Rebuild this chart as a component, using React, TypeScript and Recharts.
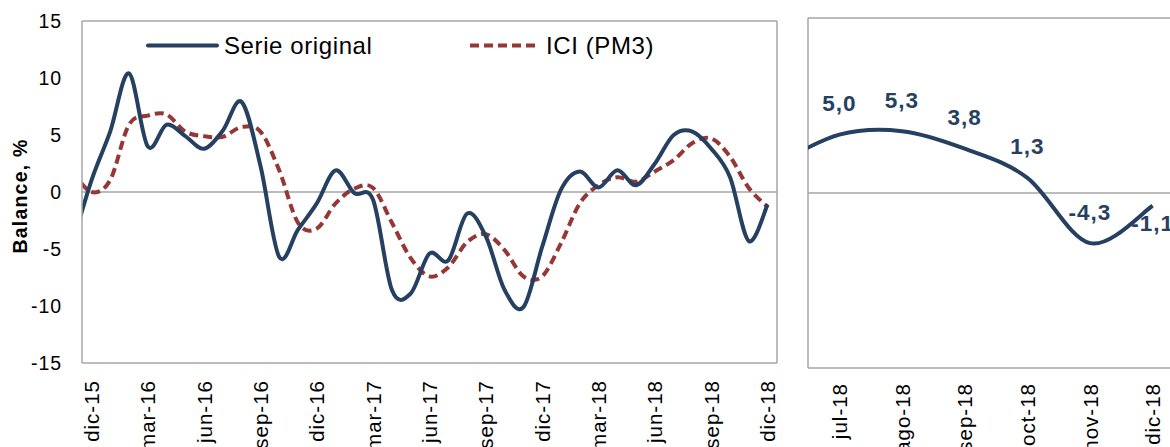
import React from 'react';
import { LineChart, Line, XAxis, YAxis, ReferenceLine, LabelList } from 'recharts';

// ---------- data ----------
const months = [
  'nov-15', 'dic-15', 'ene-16', 'feb-16', 'mar-16', 'abr-16', 'may-16', 'jun-16', 'jul-16', 'ago-16',
  'sep-16', 'oct-16', 'nov-16', 'dic-16', 'ene-17', 'feb-17', 'mar-17', 'abr-17', 'may-17', 'jun-17',
  'jul-17', 'ago-17', 'sep-17', 'oct-17', 'nov-17', 'dic-17', 'ene-18', 'feb-18', 'mar-18', 'abr-18',
  'may-18', 'jun-18', 'jul-18', 'ago-18', 'sep-18', 'oct-18', 'nov-18', 'dic-18',
];
const serieOriginal = [
  -4.5, 1.0, 5.3, 10.4, 4.0, 5.9, 4.9, 3.8, 5.4, 7.9,
  2.3, -5.7, -3.3, -1.0, 1.9, -0.1, -0.7, -8.6, -8.9, -5.4,
  -6.0, -1.9, -3.9, -8.6, -10.1, -4.8, 0.2, 1.8, 0.4, 1.9,
  0.6, 2.5, 5.0, 5.3, 3.8, 1.3, -4.3, -1.1,
];
const iciPM3 = [
  1.8, 0.0, 1.05, 5.9, 6.7, 6.8, 5.3, 4.9, 4.85, 5.7,
  5.3, 1.9, -2.7, -3.2, -1.0, 0.3, 0.35, -2.7, -5.8, -7.4,
  -6.6, -4.4, -3.7, -5.1, -7.4, -7.4, -4.5, -1.0, 0.6, 1.3,
  0.9, 1.8, 2.8, 4.3, 4.7, 3.1, 0.35, -1.3,
];
const leftTickIdx = [0, 3, 6, 9, 12, 15, 18, 21, 24, 27, 30, 33, 36];
const yTicks = [-15, -10, -5, 0, 5, 10, 15];

const rightMonths = ['jun-18', 'jul-18', 'ago-18', 'sep-18', 'oct-18', 'nov-18', 'dic-18'];
const rightValues = [2.5, 5.0, 5.3, 3.8, 1.3, -4.3, -1.1];
const rightTickIdx = [0, 1, 2, 3, 4, 5];

// idx: -1 = first month (clipped), 0 = dic-15 ...
const leftData = months.map((m, i) => ({ idx: i - 1, month: m, orig: serieOriginal[i], ici: iciPM3[i] }));
const rightData = rightMonths.map((m, i) => ({ idx: i - 1, month: m, v: rightValues[i] }));

// ---------- style ----------
const FONT = '"Liberation Sans", Arial, Helvetica, sans-serif';
const BLUE = '#254061';
const RED = '#953735';
const GRAY = '#A6A6A6';

// Excel-like smoothing (Catmull-Rom)
const catmullRom = (context: any) => {
  let pts: number[][] = [];
  return {
    areaStart() {},
    areaEnd() {},
    lineStart() { pts = []; },
    point(x: number, y: number) { pts.push([+x, +y]); },
    lineEnd() {
      const n = pts.length;
      if (!n) return;
      context.moveTo(pts[0][0], pts[0][1]);
      if (n === 1) return;
      for (let i = 0; i < n - 1; i++) {
        const p0 = pts[i - 1] || pts[i];
        const p1 = pts[i];
        const p2 = pts[i + 1];
        const p3 = pts[i + 2] || pts[i + 1];
        const c1x = p1[0] + (p2[0] - p0[0]) / 6;
        const c1y = p1[1] + (p2[1] - p0[1]) / 6;
        const c2x = p2[0] - (p3[0] - p1[0]) / 6;
        const c2y = p2[1] - (p3[1] - p1[1]) / 6;
        context.bezierCurveTo(c1x, c1y, c2x, c2y, p2[0], p2[1]);
      }
    },
  };
};

const makeRotTick = (labels: string[], offsetIdx: number, gap: number) => (props: any) => {
  const { x, y, payload } = props;
  const label = labels[payload.value + offsetIdx];
  const ty = y + gap;
  return (
    <text
      x={x}
      y={ty}
      transform={`rotate(-90 ${x} ${ty})`}
      textAnchor="end"
      dominantBaseline="central"
      fontFamily={FONT}
      fontSize={20.5}
      letterSpacing={1}
      fill="#000"
    >
      {label}
    </text>
  );
};

const fmt = (v: number) => v.toFixed(1).replace('.', ',');

const RightLabel = (props: any) => {
  const { x, y, value, index } = props;
  if (index === 0) return null;
  const last = index === rightValues.length - 1;
  return (
    <text
      x={x}
      y={last ? y + 18 : y - 31}
      textAnchor="middle"
      dominantBaseline="central"
      fontFamily={FONT}
      fontSize={22.5}
      fontWeight="bold"
      letterSpacing={1}
      fill={BLUE}
    >
      {fmt(value)}
    </text>
  );
};

const YLabel = () => (
  <text
    x={20}
    y={196}
    transform="rotate(-90 20 196)"
    textAnchor="middle"
    dominantBaseline="central"
    fontFamily={FONT}
    fontSize={19.5}
    fontWeight="bold"
    letterSpacing={1.2}
    fill="#000"
  >
    Balance, %
  </text>
);

const Legend = () => (
  <div style={{ position: 'absolute', left: 0, top: 0, width: 800, height: 70, pointerEvents: 'none', fontFamily: FONT }}>
    <svg width={800} height={70} style={{ position: 'absolute', left: 0, top: 0 }}>
      <line x1={148} y1={45.5} x2={217} y2={45.5} stroke={BLUE} strokeWidth={4} strokeLinecap="round" />
      <line x1={470} y1={45.5} x2={539} y2={45.5} stroke={RED} strokeWidth={4} strokeDasharray="9 5" />
      <text x={224} y={54} fontFamily={FONT} fontSize={24} letterSpacing={0.6} fill="#000">Serie original</text>
      <text x={546} y={54} fontFamily={FONT} fontSize={24} letterSpacing={0.6} fill="#000">ICI (PM3)</text>
    </svg>
  </div>
);

export default function App() {
  return (
    <div style={{ position: 'absolute', left: 0, top: 0, width: 1170, height: 447, overflow: 'hidden', background: '#fff' }}>
      <div style={{ position: 'absolute', left: 0, top: 0 }}>
        <LineChart width={800} height={447} data={leftData} margin={{ top: 21, right: 23, left: 0, bottom: 0 }}>
          <XAxis
            dataKey="idx"
            type="number"
            domain={[-0.5, 36.5]}
            allowDataOverflow
            ticks={leftTickIdx}
            interval={0}
            height={84}
            tickLine={false}
            tickSize={0}
            tickMargin={0}
            axisLine={{ stroke: GRAY, strokeWidth: 1.5 }}
            tick={makeRotTick(months, 1, 17)}
          />
          <YAxis
            type="number"
            domain={[-15, 15]}
            ticks={yTicks}
            allowDataOverflow
            width={82}
            tickLine={false}
            tickSize={0}
            tickMargin={20}
            axisLine={{ stroke: GRAY, strokeWidth: 1.5 }}
            tick={{ fontSize: 19.5, fill: '#000', fontFamily: FONT, letterSpacing: 0.9 }}
            label={<YLabel />}
          />
          <ReferenceLine y={0} stroke={GRAY} strokeWidth={1.5} />
          <ReferenceLine y={15} stroke={GRAY} strokeWidth={1.5} />
          <ReferenceLine x={36.5} stroke={GRAY} strokeWidth={1.5} />
          <Line
            dataKey="ici"
            type={catmullRom as any}
            stroke={RED}
            strokeWidth={4}
            strokeDasharray="9 5"
            dot={false}
            activeDot={false}
            isAnimationActive={false}
          />
          <Line
            dataKey="orig"
            type={catmullRom as any}
            stroke={BLUE}
            strokeWidth={4}
            dot={false}
            activeDot={false}
            isAnimationActive={false}
          />
        </LineChart>
        <Legend />
      </div>
      <div style={{ position: 'absolute', left: 790, top: 0 }}>
        <LineChart width={400} height={447} data={rightData} margin={{ top: 18, right: 6, left: 18, bottom: 0 }}>
          <XAxis
            dataKey="idx"
            type="number"
            domain={[-0.5, 5.5]}
            allowDataOverflow
            ticks={rightTickIdx}
            interval={0}
            height={79}
            tickLine={false}
            tickSize={0}
            tickMargin={0}
            axisLine={{ stroke: GRAY, strokeWidth: 1.5 }}
            tick={makeRotTick(rightMonths, 1, 15)}
          />
          <YAxis type="number" domain={[-15, 15]} allowDataOverflow hide />
          <ReferenceLine y={0} stroke={GRAY} strokeWidth={1.5} />
          <ReferenceLine y={15} stroke={GRAY} strokeWidth={1.5} />
          <ReferenceLine x={-0.5} stroke={GRAY} strokeWidth={1.5} />
          <ReferenceLine x={5.5} stroke={GRAY} strokeWidth={1.5} />
          <Line
            dataKey="v"
            type={catmullRom as any}
            stroke={BLUE}
            strokeWidth={4}
            dot={false}
            activeDot={false}
            isAnimationActive={false}
          >
            <LabelList dataKey="v" content={<RightLabel />} />
          </Line>
        </LineChart>
      </div>
    </div>
  );
}
